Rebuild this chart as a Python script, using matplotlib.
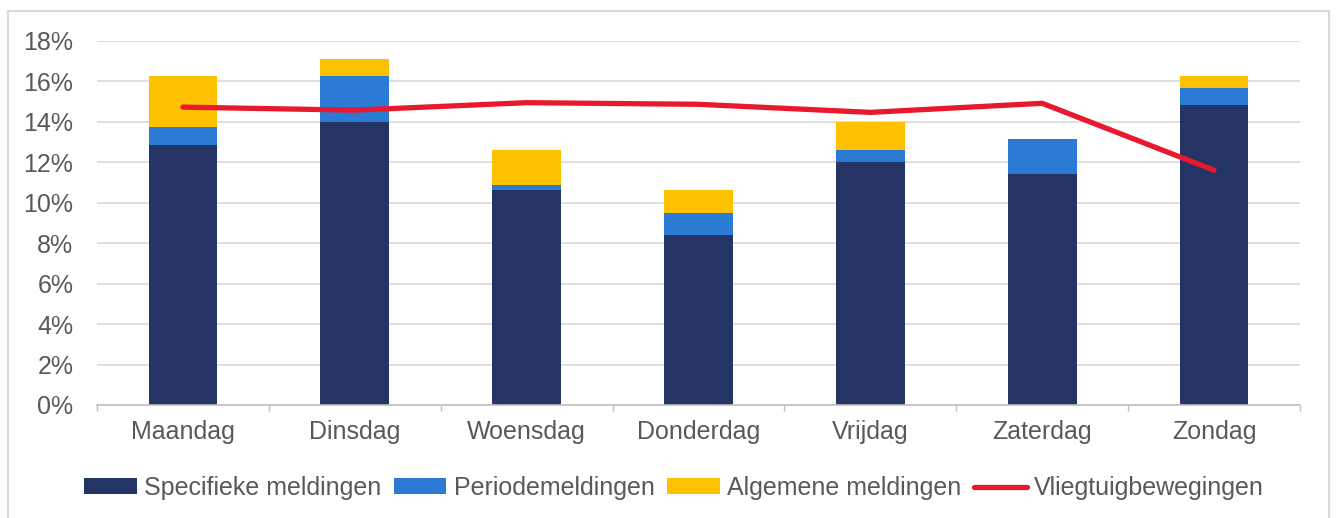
import matplotlib
matplotlib.use("Agg")
import matplotlib.pyplot as plt
from matplotlib.ticker import PercentFormatter, FixedLocator
from matplotlib.patches import Rectangle
import numpy as np

days = ["Maandag", "Dinsdag", "Woensdag", "Donderdag", "Vrijdag", "Zaterdag", "Zondag"]
specifiek = [12.84, 13.98, 10.62, 8.40, 12.03, 11.43, 14.83]
periode = [0.89, 2.27, 0.27, 1.09, 0.56, 1.72, 0.86]
algemeen = [2.52, 0.84, 1.70, 1.15, 1.40, 0.00, 0.57]
vliegtuig = [14.73, 14.58, 14.95, 14.87, 14.47, 14.92, 11.61]
yticks = [0, 2, 4, 6, 8, 10, 12, 14, 16, 18]

c_navy = "#243465"
c_blue = "#2B7BD4"
c_yellow = "#FFC000"
c_red = "#E8192C"
c_text = "#595959"

plt.rcParams["font.family"] = ["Liberation Sans", "DejaVu Sans"]

fig = plt.figure(figsize=(13.36, 5.18), dpi=100)
ax = fig.add_axes([97/1336, 1-405/518, (1300-97)/1336, (405-41)/518])

x = np.arange(len(days))
w = 0.4
spec = np.array(specifiek)
per = np.array(periode)
alg = np.array(algemeen)
b1 = ax.bar(x, spec, w, color=c_navy, label="Specifieke meldingen", zorder=2)
b2 = ax.bar(x, per, w, bottom=spec, color=c_blue, label="Periodemeldingen", zorder=2)
b3 = ax.bar(x, alg, w, bottom=spec+per, color=c_yellow, label="Algemene meldingen", zorder=2)
ln, = ax.plot(x, vliegtuig, color=c_red, lw=3.8, solid_capstyle="round", solid_joinstyle="round",
              label="Vliegtuigbewegingen", zorder=3)

ax.set_xlim(-0.5, len(days)-0.5)
ax.set_ylim(0, 18)
ax.set_yticks(yticks)
ax.yaxis.set_major_formatter(PercentFormatter(decimals=0))
ax.set_xticks(x)
ax.set_xticklabels(days)
ax.xaxis.set_minor_locator(FixedLocator(np.arange(-0.5, len(days), 1.0)))
ax.tick_params(axis="x", which="major", length=0, pad=10.5, labelsize=18, labelcolor=c_text)
ax.tick_params(axis="x", which="minor", length=4, width=1, color="#bfbfbf", direction="out")
ax.tick_params(axis="y", length=0, pad=17, labelsize=18, labelcolor=c_text)
ax.grid(axis="y", color="#d9d9d9", lw=1.2, zorder=0)
ax.set_axisbelow(True)
for s in ["top", "right", "left"]:
    ax.spines[s].set_visible(False)
ax.spines["bottom"].set_color("#bfbfbf")
ax.spines["bottom"].set_linewidth(1.2)

handles = [b1, b2, b3, ln]
labels = [h.get_label() for h in handles]
leg = fig.legend(handles, labels, loc="center", bbox_to_anchor=(0.5045, 1-488/518), ncol=4,
                 frameon=False, fontsize=18, handlelength=2.1, handleheight=0.6,
                 handletextpad=0.3, columnspacing=0.5, labelcolor=c_text)

fig.patches.append(Rectangle((8/1336, -0.05), (1329-8)/1336, 1.05-11/518,
                             transform=fig.transFigure, fill=False, edgecolor="#d9d9d9", lw=1.5))

fig.savefig("out.png", dpi=100)
